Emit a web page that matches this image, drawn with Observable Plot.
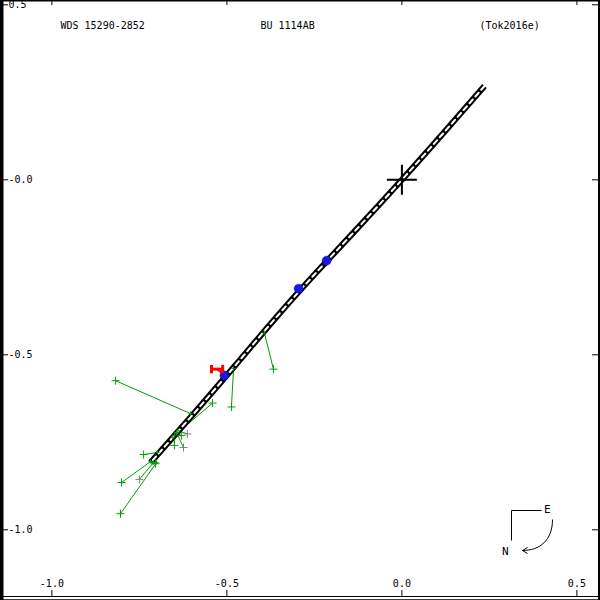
<!DOCTYPE html>
<html>
<head>
<meta charset="utf-8">
<script src="https://cdn.jsdelivr.net/npm/d3@7"></script>
<script src="https://cdn.jsdelivr.net/npm/@observablehq/plot@0.6"></script>
<style>
  html, body { margin: 0; padding: 0; background: #fff; }
  #chart svg { display: block; }
</style>
</head>
<body>
<div id="chart"></div>
<script>
// ---- data ----
const xTicks = [-1.0, -0.5, 0.0, 0.5];
const xTickLabels = ["-1.0", "-0.5", "0.0", "0.5"];
const yTicks = [0.5, 0.0, -0.5, -1.0];
const yTickLabels = ["0.5", "-0.0", "-0.5", "-1.0"];
const titles = ["WDS 15290-2852", "BU 1114AB", "(Tok2016e)"];

// orbit (very thin, nearly edge-on ellipse) centreline
const orbitX = [0.236, 0.12, 0.0, -0.12, -0.24, -0.36, -0.48, -0.60, -0.718];
const orbitY = [0.268, 0.135, 0.0, -0.131, -0.260, -0.394, -0.535, -0.674, -0.808];

// blue points (micrometric / speckle)
const blueX = [-0.215, -0.295, -0.507];
const blueY = [-0.231, -0.311, -0.559];

// observed positions and predicted positions on orbit (O-C lines)
const obsX  = [-0.818, -0.801, -0.804, -0.750, -0.738, -0.704, -0.541, -0.487, -0.367, -0.624, -0.613, -0.630, -0.650];
const obsY  = [-0.574, -0.865, -0.954, -0.856, -0.785, -0.811, -0.638, -0.649, -0.541, -0.765, -0.726, -0.731, -0.759];
const predX = [-0.604, -0.718, -0.701, -0.710, -0.698, -0.710, -0.655, -0.481, -0.393, -0.644, -0.640, -0.644, -0.650];
const predY = [-0.668, -0.805, -0.808, -0.808, -0.779, -0.808, -0.735, -0.539, -0.437, -0.722, -0.717, -0.722, -0.730];
const obsKind = ["g","g","g","k","g","g","g","g","g","k","k","g","g"];

// red measurement with x error bar
const redX = [-0.528];
const redY = [-0.541];
const redErr = [0.016];
const redPredX = [-0.505];
const redPredY = [-0.558];

// ---- build ----
const W = 600, H = 600;
const pxPerUnit = 350;
const x0px = 401.4, y0px = 179.3;
const xDomain = [-x0px / pxPerUnit, (W - x0px) / pxPerUnit];
const yDomain = [(y0px - H) / pxPerUnit, y0px / pxPerUnit];

const orbit = orbitX.map((x, i) => ({x, y: orbitY[i]}));
const blue = blueX.map((x, i) => ({x, y: blueY[i]}));
const obs = obsX.map((x, i) => ({x, y: obsY[i], px: predX[i], py: predY[i], k: obsKind[i]}));
const red = redX.map((x, i) => ({x, y: redY[i], e: redErr[i], px: redPredX[i], py: redPredY[i]}));

const cross = {
  draw(ctx, size) {
    const r = Math.sqrt(size / Math.PI);
    ctx.moveTo(-r, 0); ctx.lineTo(r, 0);
    ctx.moveTo(0, -r); ctx.lineTo(0, r);
  }
};
const compass = {
  draw(ctx) {
    ctx.moveTo(30, 0); ctx.lineTo(0, 0); ctx.lineTo(0, 30);
    ctx.moveTo(41, 9);
    ctx.bezierCurveTo(41, 30, 28, 40, 11, 40);
    ctx.moveTo(16, 37); ctx.lineTo(11, 40); ctx.lineTo(16, 43);
  }
};

const green = "#00a000";
const gray = "#808080";
const font = "DejaVu Sans Mono";

const chart = Plot.plot({
  width: W, height: H,
  margin: 0,
  x: {domain: xDomain, axis: null},
  y: {domain: yDomain, axis: null},
  style: {background: "#fff", fontFamily: font, fontSize: "10px", color: "#000"},
  marks: [
    // O-C lines and observations
    Plot.link(obs, {x1: "x", y1: "y", x2: "px", y2: "py", stroke: green, strokeWidth: 1}),
    Plot.link(red, {x1: "x", y1: "y", x2: "px", y2: "py", stroke: "red", strokeWidth: 2}),
    // orbit
    Plot.line(orbit, {x: "x", y: "y", stroke: "#000", strokeWidth: 6, curve: "natural", strokeLinecap: "butt"}),
    Plot.line(orbit, {x: "x", y: "y", stroke: "#fff", strokeWidth: 2, strokeDasharray: "5,4", curve: "natural"}),
    Plot.dot(obs, {x: "x", y: "y", symbol: cross, r: 4, fill: "none",
      stroke: d => d.k === "k" ? gray : green, strokeWidth: 1}),
    Plot.dot(obs, {x: "px", y: "py", symbol: cross, r: 2, fill: "none", stroke: green, strokeWidth: 1}),
    // blue points
    Plot.dot(blue, {x: "x", y: "y", r: 4.5, fill: "#1818e0", stroke: "#0000b0", strokeWidth: 0.5}),
    // red error bar
    Plot.link(red, {x1: d => d.x - d.e, x2: d => d.x + d.e, y1: "y", y2: "y", stroke: "red", strokeWidth: 3}),
    Plot.link(red, {x1: d => d.x - d.e, x2: d => d.x - d.e, y1: d => d.y - 0.012, y2: d => d.y + 0.012, stroke: "red", strokeWidth: 3}),
    Plot.link(red, {x1: d => d.x + d.e, x2: d => d.x + d.e, y1: d => d.y - 0.012, y2: d => d.y + 0.012, stroke: "red", strokeWidth: 3}),
    // primary star
    Plot.dot([{x: 0, y: 0}], {x: "x", y: "y", symbol: cross, r: 15, fill: "none", stroke: "#000", strokeWidth: 2}),
    // frame
    Plot.frame({stroke: "#000", strokeWidth: 2}),
    Plot.ruleX([xDomain[0]], {stroke: "#000", strokeWidth: 6}),
    Plot.ruleX([xDomain[1]], {stroke: "#000", strokeWidth: 5}),
    Plot.ruleY([yDomain[0]], {stroke: "#000", strokeWidth: 2}),
    Plot.ruleY([yDomain[0]], {stroke: "#000", strokeWidth: 1, dy: -4}),
    // ticks
    Plot.tickX(xTicks, {x: d => d, insetTop: H - 10, insetBottom: 4, stroke: "#000"}),
    Plot.tickX(xTicks, {x: d => d, insetBottom: H - 5, stroke: "#000"}),
    Plot.tickY(yTicks, {y: d => d, insetRight: W - 8, stroke: "#000"}),
    Plot.tickY(yTicks, {y: d => d, insetLeft: W - 8, stroke: "#000"}),
    // tick labels
    Plot.text(xTicks, {x: d => d, text: (d, i) => xTickLabels[i], frameAnchor: "bottom", dy: -17,
      lineAnchor: "middle", fontFamily: font, fontSize: 10, fill: "#000"}),
    Plot.text(yTicks, {y: d => d, text: (d, i) => yTickLabels[i], frameAnchor: "left", dx: 8,
      textAnchor: "start", lineAnchor: "middle", fontFamily: font, fontSize: 10, fill: "#000"}),
    // titles
    Plot.text([titles[0]], {text: d => d, frameAnchor: "top-left", dx: 60, dy: 25, textAnchor: "start", lineAnchor: "middle", fontFamily: font, fontSize: 10, fill: "#000"}),
    Plot.text([titles[1]], {text: d => d, frameAnchor: "top-left", dx: 260, dy: 25, textAnchor: "start", lineAnchor: "middle", fontFamily: font, fontSize: 10, fill: "#000"}),
    Plot.text([titles[2]], {text: d => d, frameAnchor: "top-left", dx: 479, dy: 25, textAnchor: "start", lineAnchor: "middle", fontFamily: font, fontSize: 10, fill: "#000"}),
    // compass
    Plot.dot([0], {frameAnchor: "bottom-right", dx: -89, dy: -90, symbol: compass, r: 1, fill: "none", stroke: "#000", strokeWidth: 1}),
    Plot.text(["E"], {text: d => d, frameAnchor: "bottom-right", dx: -50, dy: -91, lineAnchor: "middle", fontFamily: font, fontSize: 11, fill: "#000"}),
    Plot.text(["N"], {text: d => d, frameAnchor: "bottom-right", dx: -92, dy: -49, lineAnchor: "middle", fontFamily: font, fontSize: 11, fill: "#000"})
  ]
});
document.getElementById("chart").appendChild(chart);
</script>
</body>
</html>
